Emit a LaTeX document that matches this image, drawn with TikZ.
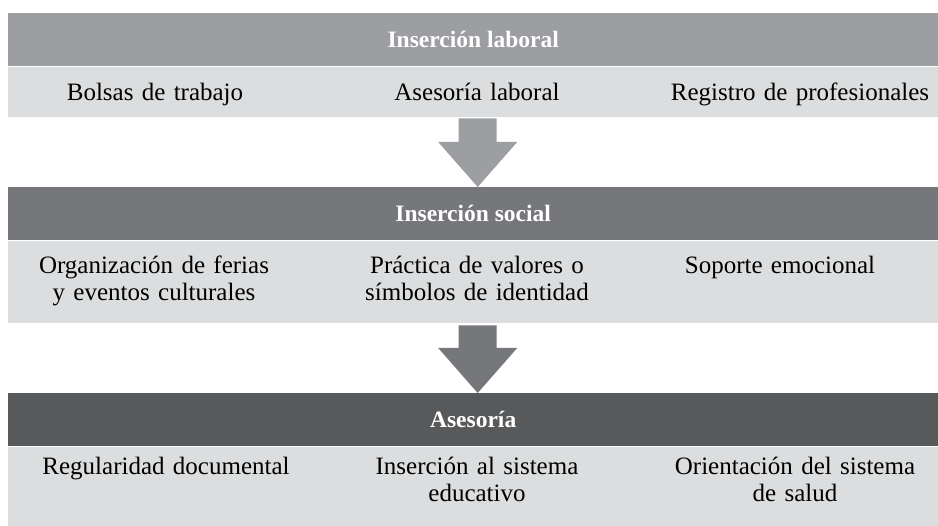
\documentclass[tikz,border=0pt]{standalone}
\usepackage{fontspec}
\setmainfont{Liberation Serif}
\usetikzlibrary{calc}

\definecolor{headA}{HTML}{9D9EA2}
\definecolor{headB}{HTML}{76777B}
\definecolor{headC}{HTML}{58595B}
\definecolor{bandgray}{HTML}{DCDDDE}

\tikzset{
  headbar/.style={fill=#1, text=white, anchor=north west, inner sep=0pt,
    minimum width=930pt, minimum height=53pt,
    font=\bfseries\fontsize{23.5}{26}\selectfont},
  bandbox/.style={fill=bandgray, anchor=north west, inner sep=0pt,
    minimum width=930pt, minimum height=#1},
  item/.style={anchor=base, align=center, inner sep=0pt, text width=300pt,
    font=\fontsize{25}{26.5}\selectfont}
}

% block arrow: colour, top point, tip point
\newcommand{\blockarrow}[3]{%
  \fill[#1] ($(#2)+(-19,0)$) -- ($(#3)+(-19,-45)$) -- ($(#3)+(-39.5,-45)$)
    -- (#3) -- ($(#3)+(39.5,-45)$) -- ($(#3)+(19,-45)$) -- ($(#2)+(19,0)$) -- cycle;}

\begin{document}
\begin{tikzpicture}[x=1pt,y=-1pt]
\useasboundingbox (0,0) rectangle (938,526);

% first level
\node[headbar=headA] (laboral) at (8,13) {Inserción laboral};
\node[bandbox=50pt] (laboralband) at (8,67) {};
\node[item] (bolsas) at (155,101) {Bolsas de trabajo};
\node[item] (aseslab) at (477,101) {Asesoría laboral};
\node[item] (registro) at (800,101) {Registro de profesionales};

% second level
\node[headbar=headB] (social) at (8,187) {Inserción social};
\node[bandbox=82pt] (socialband) at (8,241) {};
\node[item] (ferias) at (154,274) {Organización de ferias\\ y eventos culturales};
\node[item] (valores) at (477,274) {Práctica de valores o\\ símbolos de identidad};
\node[item] (soporte) at (780,274) {Soporte emocional};

% third level
\node[headbar=headC] (asesoria) at (8,393) {Asesoría};
\node[bandbox=79pt] (asesoriaband) at (8,447) {};
\node[item] (regular) at (166,475) {Regularidad documental};
\node[item] (educa) at (477,475) {Inserción al sistema\\ educativo};
\node[item] (salud) at (795,475) {Orientación del sistema\\ de salud};

% arrows between levels
\coordinate (a1) at ([xshift=4.5pt,yshift=-1pt]laboralband.south);
\coordinate (a1tip) at (a1 |- social.north);
\blockarrow{headA}{a1}{a1tip}
\coordinate (a2) at ([xshift=4.5pt,yshift=-2pt]socialband.south);
\coordinate (a2tip) at (a2 |- asesoria.north);
\blockarrow{headB}{a2}{a2tip}

\end{tikzpicture}
\end{document}
